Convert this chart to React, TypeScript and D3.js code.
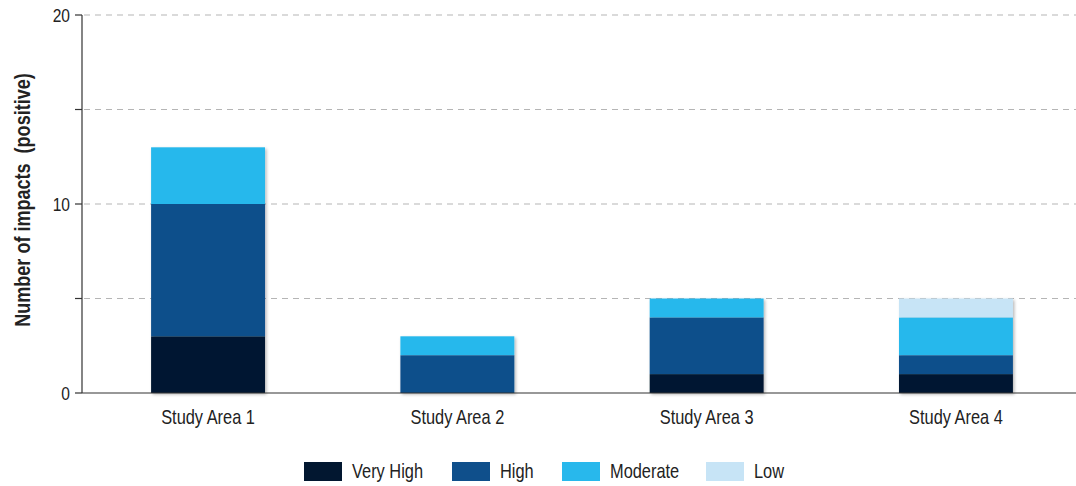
import React from "react";
import * as d3 from "d3";

const categories = ["Study Area 1", "Study Area 2", "Study Area 3", "Study Area 4"];
const levels = ["Very High", "High", "Moderate", "Low"];
const veryHigh = [3, 0, 1, 1];
const high = [7, 2, 3, 1];
const moderate = [3, 1, 1, 2];
const low = [0, 0, 0, 1];
const yTicks = [0, 5, 10, 15, 20];
const yTickLabels = ["0", "", "10", "", "20"];
const colors = ["#021730", "#0f4f8b", "#28b8ec", "#c7e4f6"];

const W = 1076;
const H = 486;
const margin = { left: 82, top: 16, bottom: 93 };
const FONT = "'Liberation Sans', Arial, sans-serif";
const SQUEEZE = 0.82;

// Condensed text: regular sans horizontally compressed
function NarrowText({
  x,
  y,
  anchor = "start",
  size,
  bold = false,
  rotate = 0,
  children,
}: {
  x: number;
  y: number;
  anchor?: "start" | "middle" | "end";
  size: number;
  bold?: boolean;
  rotate?: number;
  children: React.ReactNode;
}) {
  return (
    <g transform={`translate(${x},${y}) rotate(${rotate}) scale(${SQUEEZE},1)`}>
      <text
        textAnchor={anchor}
        dy="0.35em"
        fontSize={size}
        fontWeight={bold ? "bold" : "normal"}
        fill="#222"
        style={{ whiteSpace: "pre" }}
      >
        {children}
      </text>
    </g>
  );
}

export default function App() {
  const rows = categories.map((c, i) => ({
    cat: c,
    "Very High": veryHigh[i],
    High: high[i],
    Moderate: moderate[i],
    Low: low[i],
  }));
  const stack = d3.stack<any>().keys(levels)(rows);

  const x = d3
    .scaleBand()
    .domain(categories)
    .range([83.4, 1080.6])
    .paddingInner(0.543)
    .paddingOuter(0.2715);
  const y = d3.scaleLinear().domain([0, 20]).range([H - margin.bottom, margin.top - 1]);

  const legendX = [304, 452, 562, 706];

  return (
    <svg
      width={W}
      height={H}
      style={{ position: "absolute", left: 0, top: 0, background: "#fff" }}
      fontFamily={FONT}
    >
      <defs>
        <filter id="barShadow" x="-10%" y="-10%" width="130%" height="130%">
          <feDropShadow dx="1.5" dy="1.5" stdDeviation="1.5" floodColor="#000" floodOpacity="0.28" />
        </filter>
      </defs>

      {/* gridlines */}
      {yTicks
        .filter((t) => t > 0)
        .map((t) => (
          <line
            key={"g" + t}
            x1={margin.left + 2}
            x2={W}
            y1={y(t)}
            y2={y(t)}
            stroke="#b5b5b5"
            strokeWidth={1.2}
            strokeDasharray="6,5"
          />
        ))}

      {/* stacked bars */}
      {categories.map((c, i) => (
        <g key={c} filter="url(#barShadow)">
          {stack.map((s, k) => {
            const d = s[i];
            const h = y(d[0]) - y(d[1]);
            if (h <= 0) return null;
            return (
              <rect
                key={k}
                x={x(c)}
                width={x.bandwidth()}
                y={y(d[1])}
                height={h}
                fill={colors[k]}
              />
            );
          })}
        </g>
      ))}

      {/* y axis */}
      <line x1={margin.left} x2={margin.left} y1={y(20)} y2={y(0)} stroke="#333" strokeWidth={1.2} />
      {yTicks.map((t, i) => (
        <g key={"t" + t}>
          <line x1={margin.left - 7} x2={margin.left} y1={y(t)} y2={y(t)} stroke="#333" strokeWidth={1.2} />
          <NarrowText x={margin.left - 12} y={y(t)} anchor="end" size={19}>
            {yTickLabels[i]}
          </NarrowText>
        </g>
      ))}
      {/* baseline */}
      <line x1={margin.left} x2={W} y1={y(0)} y2={y(0)} stroke="#333" strokeWidth={1.2} />

      {/* category labels */}
      {categories.map((c) => (
        <NarrowText
          key={"l" + c}
          x={(x(c) as number) + x.bandwidth() / 2}
          y={y(0) + 24}
          anchor="middle"
          size={20}
        >
          {c}
        </NarrowText>
      ))}

      {/* y title */}
      <NarrowText x={22} y={200} anchor="middle" size={22} bold rotate={-90}>
        {"Number of impacts  (positive)"}
      </NarrowText>

      {/* legend */}
      {levels.map((l, k) => (
        <g key={"lg" + l}>
          <rect x={legendX[k]} y={462} width={38} height={19} fill={colors[k]} />
          <NarrowText x={legendX[k] + 48} y={470.5} size={20}>
            {l}
          </NarrowText>
        </g>
      ))}
    </svg>
  );
}
